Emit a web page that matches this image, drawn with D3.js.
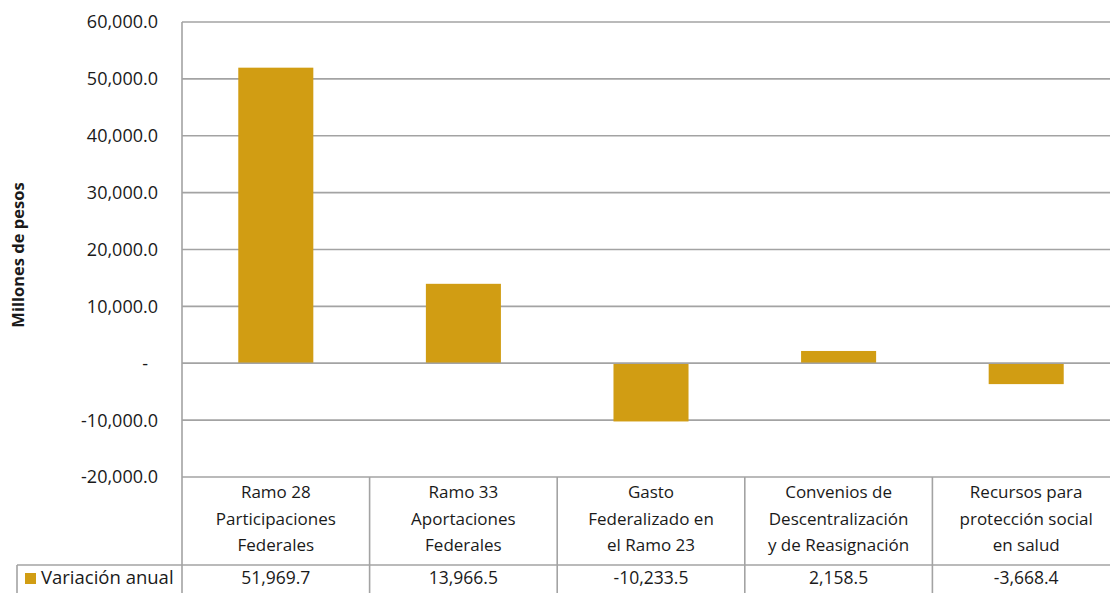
<!DOCTYPE html>
<html>
<head>
<meta charset="utf-8">
<script src="https://cdn.jsdelivr.net/npm/d3@7"></script>
<style>
  body { margin: 0; background: #fff; }
  svg { display: block; font-family: "Open Sans", "Noto Sans", sans-serif; }
</style>
</head>
<body>
<div id="chart"></div>
<script>
const categories = [
  ["Ramo 28", "Participaciones", "Federales"],
  ["Ramo 33", "Aportaciones", "Federales"],
  ["Gasto", "Federalizado en", "el Ramo 23"],
  ["Convenios de", "Descentralización", "y de Reasignación"],
  ["Recursos para", "protección social", "en salud"]
];
const values = [51969.7, 13966.5, -10233.5, 2158.5, -3668.4];
const seriesName = "Variación anual";
const yTicks = [-20000, -10000, 0, 10000, 20000, 30000, 40000, 50000, 60000];

const W = 1110, H = 593;
const plotLeft = 182, plotRight = 1120, plotTop = 22, plotBottom = 477;
const headerBottom = 565, tableBottom = 600;
const gridColor = "#a3a3a3";
const barColor = "#d19d13";
const textColor = "#1a1a1a";

const svg = d3.select("#chart").append("svg")
  .attr("width", W).attr("height", H);

const x = d3.scaleBand()
  .domain(d3.range(categories.length))
  .range([plotLeft, plotRight])
  .paddingInner(0.6)
  .paddingOuter(0.3);

const xCol = d3.scaleBand()
  .domain(d3.range(categories.length))
  .range([plotLeft, plotRight]);

const y = d3.scaleLinear()
  .domain([-20000, 60000])
  .range([plotBottom, plotTop]);

// hyphen minus like Excel
const fmt = d3.formatLocale({
  decimal: ".", thousands: ",", grouping: [3], currency: ["$", ""], minus: "-"
}).format(",.1f");

// gridlines
svg.append("g")
  .selectAll("line")
  .data(yTicks)
  .join("line")
  .attr("x1", plotLeft).attr("x2", plotRight)
  .attr("y1", d => y(d)).attr("y2", d => y(d))
  .attr("stroke", gridColor)
  .attr("stroke-width", 1.6);

// bars
svg.append("g")
  .selectAll("rect")
  .data(values)
  .join("rect")
  .attr("x", (d, i) => x(i))
  .attr("y", d => y(Math.max(0, d)))
  .attr("width", x.bandwidth())
  .attr("height", d => Math.abs(y(d) - y(0)))
  .attr("fill", barColor);

// zero line on top of bars
svg.append("line")
  .attr("x1", plotLeft).attr("x2", plotRight)
  .attr("y1", y(0)).attr("y2", y(0))
  .attr("stroke", gridColor)
  .attr("stroke-width", 1.6);

// y axis line
svg.append("line")
  .attr("x1", plotLeft).attr("x2", plotLeft)
  .attr("y1", plotTop).attr("y2", tableBottom)
  .attr("stroke", gridColor)
  .attr("stroke-width", 1.6);

// y tick labels
svg.append("g")
  .selectAll("text")
  .data(yTicks)
  .join("text")
  .attr("x", d => d === 0 ? 148 : 158)
  .attr("y", d => y(d))
  .attr("dy", "0.36em")
  .attr("text-anchor", "end")
  .style("font-size", "18px")
  .attr("fill", textColor)
  .text(d => d === 0 ? "-" : fmt(d));

// y axis title
svg.append("text")
  .attr("transform", `translate(24,255) rotate(-90)`)
  .attr("text-anchor", "middle")
  .style("font-size", "16.5px")
  .style("font-weight", "bold")
  .attr("fill", textColor)
  .text("Millones de pesos");

// data table
const table = svg.append("g");

table.append("line")
  .attr("x1", 17).attr("x2", plotRight)
  .attr("y1", headerBottom).attr("y2", headerBottom)
  .attr("stroke", gridColor).attr("stroke-width", 1.6);

table.append("line")
  .attr("x1", 17).attr("x2", 17)
  .attr("y1", headerBottom).attr("y2", tableBottom)
  .attr("stroke", gridColor).attr("stroke-width", 1.6);

table.selectAll("line.col")
  .data(d3.range(1, categories.length + 1))
  .join("line")
  .attr("class", "col")
  .attr("x1", i => plotLeft + i * xCol.step())
  .attr("x2", i => plotLeft + i * xCol.step())
  .attr("y1", plotBottom).attr("y2", tableBottom)
  .attr("stroke", gridColor).attr("stroke-width", 1.6);

categories.forEach((lines, i) => {
  const t = table.append("text")
    .attr("text-anchor", "middle")
    .style("font-size", "17px")
    .attr("fill", textColor);
  lines.forEach((ln, j) => {
    t.append("tspan")
      .attr("x", xCol(i) + xCol.bandwidth() / 2)
      .attr("y", 498 + j * 26.5)
      .text(ln);
  });
  table.append("text")
    .attr("x", xCol(i) + xCol.bandwidth() / 2)
    .attr("y", 584)
    .attr("text-anchor", "middle")
    .style("font-size", "17.5px")
    .attr("fill", textColor)
    .text(fmt(values[i]));
});

// legend key in table row header
table.append("rect")
  .attr("x", 25).attr("y", 573)
  .attr("width", 11).attr("height", 11)
  .attr("fill", barColor);

table.append("text")
  .attr("x", 41).attr("y", 584)
  .style("font-size", "18.5px")
  .attr("fill", textColor)
  .text(seriesName);
</script>
</body>
</html>
